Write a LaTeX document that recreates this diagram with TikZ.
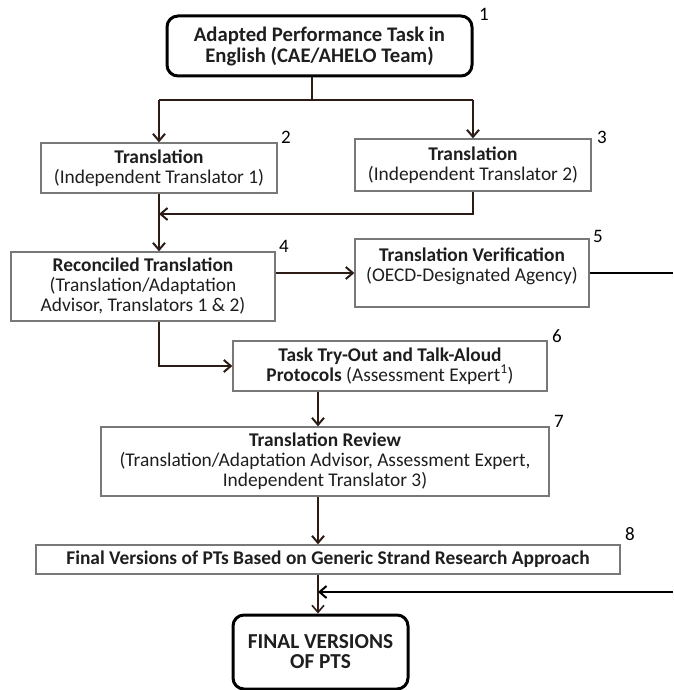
\documentclass[tikz,border=0pt]{standalone}
\usepackage{fontspec}
\setmainfont{Carlito}
\usetikzlibrary{arrows.meta,calc}
\definecolor{arr}{RGB}{45,28,22}
\definecolor{bord}{RGB}{120,120,120}
\definecolor{txt}{RGB}{30,30,30}
\begin{document}
\begin{tikzpicture}[x=1pt,y=-1pt,
  box/.style={draw=bord, line width=1.3pt, rectangle, inner sep=0pt, align=center, text=txt, font=\fontsize{19.4}{20}\selectfont},
  plain/.style={inner sep=0pt, align=center, text=txt, font=\fontsize{19.4}{20}\selectfont},
  rbox/.style={draw=black, line width=3pt, rounded corners=11pt, inner sep=0pt, align=center, text=txt, font=\bfseries\fontsize{20.7}{21}\selectfont},
  num/.style={font=\fontsize{19}{20}\selectfont, inner sep=0pt},
  conn/.style={draw=arr, line width=2.6pt},
  arrow/.style={conn, -{Straight Barb[length=7pt,width=12pt,line width=2pt]}},
  thinarrow/.style={draw=arr, line width=1.6pt, -{Straight Barb[length=7pt,width=12pt,line width=1.6pt]}},
]
\useasboundingbox (0,0) rectangle (673,690);

\node[rbox, minimum width=305pt, minimum height=60pt] (top) at (319.5,46) {Adapted Performance Task in\\English (CAE/AHELO Team)};
\node[box, minimum width=236pt, minimum height=50pt] (b2) at (159,168) {\textbf{Translation}\\(Independent Translator 1)};
\node[box, minimum width=236pt, minimum height=52pt] (b3) at (473,165) {\textbf{Translation}\\(Independent Translator 2)};
\node[box, minimum width=264pt, minimum height=69pt] (b4) at (143,286.5) {\textbf{Reconciled Translation}\\(Translation/Adaptation\\Advisor, Translators 1 \& 2)};
\node[box, minimum width=234pt, minimum height=68pt] (b5) at (472,273) {};
\node[plain] (t5) at (472,266) {\textbf{Translation Verification}\\(OECD-Designated Agency)};
\node[box, minimum width=314pt, minimum height=50pt] (b6) at (390,366) {\textbf{Task Try-Out and Talk-Aloud}\\\textbf{Protocols} (Assessment Expert\textsuperscript{1})};
\node[box, minimum width=448pt, minimum height=69pt] (b7) at (325,461.5) {\textbf{Translation Review}\\(Translation/Adaptation Advisor, Assessment Expert,\\Independent Translator 3)};
\node[box, minimum width=584pt, minimum height=29pt] (b8) at (328,559.5) {\textbf{Final Versions of PTs Based on Generic Strand Research Approach}};
\node[rbox, minimum width=175pt, minimum height=74pt, font=\bfseries\fontsize{21.3}{20}\selectfont] (fin) at (320.5,652) {FINAL VERSIONS\\OF PTS};

\node[num] (n1) at (484,14) {1};
\node[num] (n2) at (286,137) {2};
\node[num] (n3) at (602,137) {3};
\node[num] (n4) at (284,246) {4};
\node[num] (n5) at (598,236) {5};
\node[num] (n6) at (557,336) {6};
\node[num] (n7) at (559,421) {7};
\node[num] (n8) at (630,534) {8};

\coordinate (j0) at (312,100);
\coordinate (jl) at (159,100);
\coordinate (jr) at (473,100);
\coordinate (m2) at (159,214);
\coordinate (v) at (318,0);
\coordinate (r5) at (673,273);
\coordinate (r8) at (673,592);
\coordinate (j8) at (318,592);

\draw[conn] (top.south -| j0) -- (j0);
\draw[conn] (jl) -- (jr);
\draw[arrow] (jl) -- (b2.north);
\draw[arrow] (jr) -- (b3.north);
\draw[arrow] (b3.south) |- (m2);
\draw[arrow] (b2.south) -- (b2.south |- b4.north);
\draw[arrow] (b4.east |- b5.west) -- (b5.west);
\draw[conn, draw=black] (b5.east) -- (r5);
\draw[arrow] (b2.south |- b4.south) |- (b6.west);
\draw[arrow] (b6.south -| v) -- (b7.north -| v);
\draw[arrow] (b7.south -| v) -- (b8.north -| v);
\draw[thinarrow] (b8.south -| v) -- (fin.north -| v);
\draw[arrow, draw=black] (r8) -- (j8);
\end{tikzpicture}
\end{document}
